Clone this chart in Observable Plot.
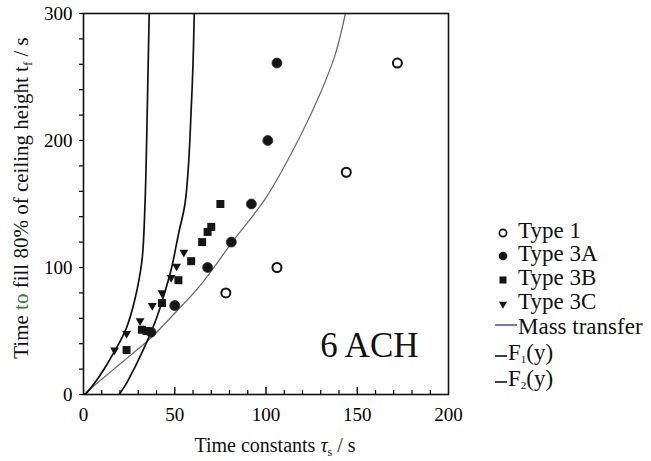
<!DOCTYPE html>
<html><head><meta charset="utf-8">
<script src="https://cdn.jsdelivr.net/npm/d3@7"></script>
<script src="https://cdn.jsdelivr.net/npm/@observablehq/plot@0.6"></script>
<style>
body{margin:0;background:#fff;}
#chart svg{display:block;}
</style></head><body><div id="chart"></div>
<script>
// ---- data ----
const type1X = [78, 106, 144, 172];
const type1Y = [80, 100, 175, 261];
const type3AX = [37, 50, 68, 81, 92, 101, 106];
const type3AY = [49, 70, 100, 120, 150, 200, 261];
const type3BX = [23.6, 32, 34.5, 43, 52, 59, 65, 68, 70, 75];
const type3BY = [35, 51, 50, 72, 90, 105, 120, 128, 132, 150];
const type3CX = [17, 23.6, 31, 37.7, 43, 48, 51, 55];
const type3CY = [35, 48, 58, 70, 80, 92, 101, 112];
const massX = [0, 10, 20, 30, 37.3, 50, 64, 82, 100, 118.6, 130, 138, 143.5];
const massY = [0, 12, 24, 36, 45, 64, 86, 121, 155, 203, 238, 268, 300];
const f1X = [1, 5, 9, 13, 17, 20.5, 23.7, 28, 32, 33.7, 34.6, 35.3, 36];
const f1Y = [0, 7, 15, 24, 34, 43, 53, 74, 105, 150, 200, 250, 300];
const f2X = [19.6, 24, 28, 32, 36.4, 40, 43.2, 48.3, 52, 55.6, 57.5, 59, 60, 60.7];
const f2Y = [0, 10, 21, 33, 47, 60, 74, 100, 126, 150, 180, 224, 260, 300];

const xLabelTicks = [0, 50, 100, 150, 200];
const xMajorTicks = [50, 100, 150];
const xMinorTicks = [10, 20, 30, 40, 60, 70, 80, 90, 110, 120, 130, 140, 160, 170, 180, 190];
const yTicks = [0, 20, 40, 60, 80, 100, 120, 140, 160, 180, 200, 220, 240, 260, 280, 300];
const yLabelTicks = [0, 100, 200, 300];
const annotation = ["6 ACH"];
const legendLabels = ["Type 1", "Type 3A", "Type 3B", "Type 3C", "Mass transfer"];
const curveLabels = ["1", "2"];

const pts = (xs, ys) => xs.map((x, i) => ({x, y: ys[i]}));
const font = "'Liberation Serif', 'Times New Roman', serif";
const innerH = 461 - 13 - 67;

const plot = Plot.plot({
  width: 651, height: 461,
  marginLeft: 83, marginRight: 203, marginTop: 13, marginBottom: 67,
  style: {fontFamily: font, fontSize: "19px", color: "black", background: "white", overflow: "visible"},
  x: {domain: [0, 200]},
  y: {domain: [0, 300]},
  marks: [
    Plot.axisX({ticks: xLabelTicks, tickSize: 0, tickPadding: 13, label: null, fontSize: 19}),
    Plot.axisY({ticks: yTicks, tickSize: 4, tickPadding: 7, label: null, fontSize: 19, strokeWidth: 1.2,
      tickFormat: d => yLabelTicks.includes(d) ? String(d) : ""}),
    Plot.ruleX(xMajorTicks, {x: d => d, insetTop: innerH - 7, stroke: "black", strokeWidth: 1.4}),
    Plot.ruleX(xMinorTicks, {x: d => d, insetTop: innerH - 4, stroke: "black", strokeWidth: 1.2}),
    Plot.line(pts(massX, massY), {x: "x", y: "y", stroke: "#666", strokeWidth: 1.2, curve: "catmull-rom", clip: true}),
    Plot.line(pts(f1X, f1Y), {x: "x", y: "y", stroke: "#111", strokeWidth: 1.7, curve: "catmull-rom", clip: true}),
    Plot.line(pts(f2X, f2Y), {x: "x", y: "y", stroke: "#111", strokeWidth: 1.7, curve: "catmull-rom", clip: true}),
    Plot.dot(pts(type1X, type1Y), {x: "x", y: "y", r: 4.5, stroke: "#111", strokeWidth: 2, fill: "white"}),
    Plot.dot(pts(type3AX, type3AY), {x: "x", y: "y", r: 5, fill: "#151515", stroke: "#333", strokeWidth: 0.8}),
    Plot.dot(pts(type3BX, type3BY), {x: "x", y: "y", r: 4.5, symbol: "square", fill: "#151515"}),
    Plot.dot(pts(type3CX, type3CY), {x: "x", y: "y", r: 3.3, symbol: "triangle", rotate: 180, fill: "#151515"}),
    Plot.text(annotation, {text: d => d, frameAnchor: "bottom-right", textAnchor: "end", lineAnchor: "bottom",
      dx: -30, dy: -38, fontSize: 35, fill: "#111"}),
    Plot.frame({stroke: "#111", strokeWidth: 1.6})
  ]
});
document.getElementById("chart").appendChild(plot);

const svg = d3.select(plot);

// y axis label
const yl = svg.append("text")
  .attr("transform", "translate(28,198) rotate(-90)")
  .attr("text-anchor", "middle").attr("font-family", font).attr("font-size", 21).attr("fill", "#111");
yl.append("tspan").text("Time ");
yl.append("tspan").attr("fill", "#2e7d32").text("to");
yl.append("tspan").text(" fill 80% of ceiling height t");
yl.append("tspan").attr("font-size", 13).attr("dy", 4).text("f");
yl.append("tspan").attr("dy", -4).text(" / s");

// x axis label
const xl = svg.append("text")
  .attr("x", 275).attr("y", 452)
  .attr("text-anchor", "middle").attr("font-family", font).attr("font-size", 20).attr("fill", "#111");
xl.append("tspan").text("Time constants ");
xl.append("tspan").attr("font-style", "italic").text("τ");
xl.append("tspan").attr("font-size", 12).attr("dy", 4).text("s");
xl.append("tspan").attr("dy", -4).text(" / s");

// legend
const baselines = [238, 261, 285, 309, 334, 360, 386];
const lg = svg.append("g").attr("font-family", font).attr("font-size", 23).attr("fill", "#111")
  .attr("text-anchor", "start");
const mx = 503;
lg.append("circle").attr("cx", mx).attr("cy", baselines[0] - 5).attr("r", 3.6)
  .attr("fill", "white").attr("stroke", "#111").attr("stroke-width", 1.7);
lg.append("circle").attr("cx", mx).attr("cy", baselines[1] - 5).attr("r", 4.3).attr("fill", "#151515");
lg.append("rect").attr("x", mx - 3.5).attr("y", baselines[2] - 8.5).attr("width", 7).attr("height", 7).attr("fill", "#151515");
lg.append("path").attr("d", d3.symbol(d3.symbolTriangle, 28)())
  .attr("transform", `translate(${mx},${baselines[3] - 5}) rotate(180)`).attr("fill", "#151515");
lg.append("line").attr("x1", 495).attr("x2", 517).attr("y1", baselines[4] - 9).attr("y2", baselines[4] - 9)
  .attr("stroke", "#4b5aa8").attr("stroke-width", 1.6);
lg.append("line").attr("x1", 495).attr("x2", 507).attr("y1", baselines[5] - 4).attr("y2", baselines[5] - 4)
  .attr("stroke", "#111").attr("stroke-width", 1.6);
lg.append("line").attr("x1", 495).attr("x2", 507).attr("y1", baselines[6] - 4).attr("y2", baselines[6] - 4)
  .attr("stroke", "#111").attr("stroke-width", 1.6);
legendLabels.forEach((t, i) => {
  lg.append("text").attr("x", 518).attr("y", baselines[i]).text(t);
});
curveLabels.forEach((s, i) => {
  const t = lg.append("text").attr("x", 508).attr("y", baselines[5 + i]);
  t.append("tspan").text("F");
  t.append("tspan").attr("font-size", 11).attr("dy", 3).text(s);
  t.append("tspan").attr("dy", -3).text("(y)");
});
</script></body></html>
